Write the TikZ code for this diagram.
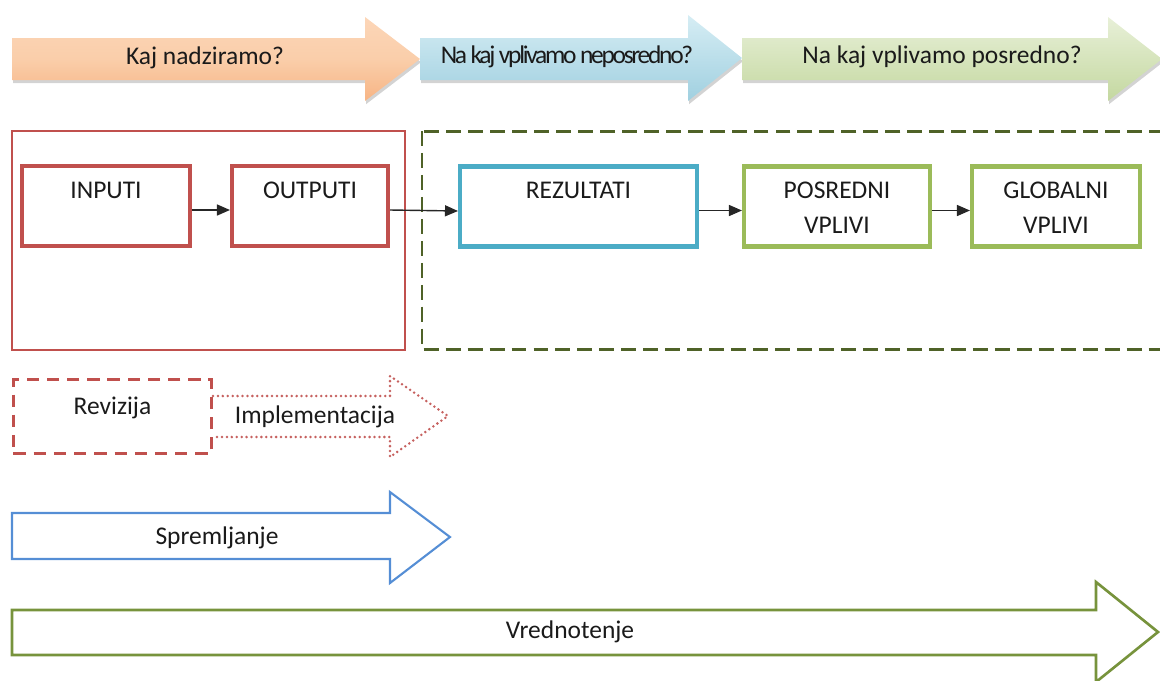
\documentclass[tikz,border=0pt]{standalone}
\usepackage{fontspec}
\setmainfont{Carlito}
\usetikzlibrary{arrows.meta,shadows}
\definecolor{redc}{HTML}{C0504D}
\definecolor{bluec}{HTML}{4BACC6}
\definecolor{greenc}{HTML}{9BBB59}
\definecolor{dkgreen}{HTML}{4F6228}
\definecolor{spblue}{HTML}{558ED5}
\definecolor{vgreen}{HTML}{77933C}
\definecolor{txt}{HTML}{1A1A1A}
\begin{document}
\begin{tikzpicture}[x=0.2mm,y=-0.2mm,
  every node/.style={font=\fontsize{14.5}{20}\selectfont, text=txt},
  toparrow/.style={draw=none, drop shadow={shadow xshift=0.6pt, shadow yshift=-1.8pt, opacity=0.35}},
  stagebox/.style={draw, line width=2.3pt, minimum height=16mm, inner sep=0pt,
                   text height=6.4mm, text depth=9.6mm, align=center},
  stagebox2/.style={stagebox, text height=13.4mm, text depth=2.6mm},
  conn/.style={draw=black!85, line width=0.8pt, -{Triangle[length=2.6mm,width=2.2mm]}},
  revbox/.style={draw=redc, line width=1.7pt, dash pattern=on 7pt off 4.5pt,
                 minimum width=39.6mm, minimum height=14.8mm, inner sep=0pt,
                 text height=7mm, text depth=7.8mm}
]
\useasboundingbox (0,0) rectangle (1160,680);

% top process arrows
\path[toparrow, top color={rgb,255:red,252;green,214;blue,184}, bottom color={rgb,255:red,247;green,180;blue,132}, middle color={rgb,255:red,250;green,206;blue,170}]
  (12,38) -- (365,38) -- (365,17) -- (420,59) -- (365,101) -- (365,80) -- (12,80) -- cycle;
\path[toparrow, top color={rgb,255:red,214;green,237;blue,244}, bottom color={rgb,255:red,160;green,208;blue,224}]
  (420,38) -- (688,38) -- (688,15) -- (742,58) -- (688,101) -- (688,80) -- (420,80) -- cycle;
\path[toparrow, top color={rgb,255:red,232;green,240;blue,216}, bottom color={rgb,255:red,196;green,216;blue,160}]
  (742,38) -- (1108,38) -- (1108,17) -- (1162,59) -- (1108,101) -- (1108,80) -- (742,80) -- cycle;
\node (q1) at (205,58) {Kaj nadziramo?};
\node (q2) at (567,57) {\addfontfeature{LetterSpace=-9}Na kaj vplivamo neposredno?};
\node (q3) at (942,57) {Na kaj vplivamo posredno?};

% group frames
\draw[redc, line width=0.6pt] (12,131) rectangle (405,350);
\draw[dkgreen, line width=1.7pt, dash pattern=on 8.5pt off 4pt] (422,131) rectangle (1190,349);

% stage boxes
\node[stagebox, draw=redc, minimum width=33.6mm] (inp) at (106,206) {INPUTI};
\node[stagebox, draw=redc, minimum width=31.2mm] (outp) at (310,206) {OUTPUTI};
\node[stagebox, draw=bluec, minimum width=47.4mm] (rez) at (578.5,206.5) {REZULTATI};
\node[stagebox2, draw=greenc, minimum width=37.2mm] (pos) at (837,206.5) {POSREDNI\\VPLIVI};
\node[stagebox2, draw=greenc, minimum width=33.6mm] (glob) at (1056,206.5) {GLOBALNI\\VPLIVI};

\draw[conn] ([yshift=-0.8mm]inp.east) -- ([yshift=-0.8mm]outp.west);
\draw[conn] ([yshift=-0.8mm]outp.east) -- ([yshift=-0.9mm]rez.west);
\draw[conn] ([yshift=-0.8mm]rez.east) -- ([yshift=-0.8mm]pos.west);
\draw[conn] ([yshift=-0.8mm]pos.east) -- ([yshift=-0.8mm]glob.west);

% bottom
\node[revbox] (rev) at (112.5,416.5) {Revizija};
\draw[redc!90!white, line width=1.6pt, line cap=round, dash pattern=on 0pt off 2.8pt]
  (rev.north east |- 0,396) -- (390,396) -- (390,376) -- (448,416) -- (390,457) -- (390,437) -- (rev.north east |- 0,437);
\node (impl) at (315,417) {Implementacija};

\draw[spblue, line width=1.2pt] (12,513) -- (390,513) -- (390,492) -- (450,537) -- (390,583) -- (390,559) -- (12,559) -- cycle;
\node (spr) at (217,538) {Spremljanje};

\draw[vgreen, line width=1.5pt] (12,610) -- (1096,610) -- (1096,582) -- (1158,632) -- (1096,682) -- (1096,655) -- (12,655) -- cycle;
\node (vred) at (570,632) {Vrednotenje};
\end{tikzpicture}
\end{document}
